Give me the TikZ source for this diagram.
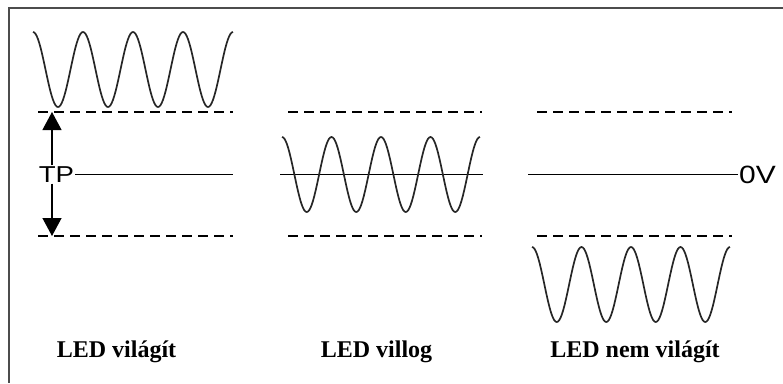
\documentclass[tikz,border=0pt]{standalone}
\usepackage{fontspec}
\setmainfont{Liberation Serif}
\newfontfamily\levelfont[FakeStretch=1.2]{Liberation Sans}
\usetikzlibrary{arrows.meta}

\tikzset{
  wave/.style={line width=1.7pt, black!85},
  levelline/.style={line width=1.2pt, dash pattern=on 10pt off 6pt},
  zeroline/.style={line width=1.2pt},
  sidelabel/.style={font=\levelfont\fontsize{23}{23}\selectfont, inner sep=1pt},
  caption/.style={font=\bfseries\fontsize{24}{24}\selectfont, anchor=base},
  span/.style={line width=1.2pt, -{Triangle[width=19pt,length=18pt]}}
}

\begin{document}
\begin{tikzpicture}[x=1pt, y=-1pt]
  \useasboundingbox (0,0) rectangle (783,383);
  % frame
  \draw[line width=2pt, black!70] (783,8) -- (9,8) -- (9,383);

  % LED világít
  \draw[wave] plot[domain=0:4, samples=161] ({33+50*\x}, {69.5-37.5*cos(360*\x)});
  \coordinate (aTop) at (52,112);
  \coordinate (aBot) at (52,236);
  \coordinate (aEnd) at (233,174.5);
  \draw[levelline] (38,112) -- (233,112);
  \draw[levelline] (38,236) -- (233,236);
  \node[sidelabel] (tp) at (56.5,174.5) {TP};
  \draw[span] (tp.north -| aTop) -- (aTop);
  \draw[span] (tp.south -| aBot) -- (aBot);
  \draw[zeroline] (tp.east) -- (aEnd);
  \node[caption] (capA) at (116.5,357) {LED világít};

  % LED villog
  \draw[levelline] (288,112) -- (482,112);
  \draw[levelline] (288,236) -- (482,236);
  \coordinate (bStart) at (280,174.5);
  \coordinate (bEnd) at (483,174.5);
  \draw[zeroline] (bStart) -- (bEnd);
  \draw[wave] plot[domain=0:4, samples=161] ({282+49.5*\x}, {174.5-37.5*cos(360*\x)});
  \node[caption] (capB) at (376.5,357) {LED villog};

  % LED nem világít
  \draw[levelline] (537,112) -- (732,112);
  \draw[levelline] (537,236) -- (732,236);
  \node[sidelabel, font=\levelfont\fontsize{25}{25}\selectfont] (zerov) at (757.5,174.5) {0V};
  \coordinate (cStart) at (528,174.5);
  \draw[zeroline] (cStart) -- (zerov.west);
  \draw[wave] plot[domain=0:4, samples=161] ({532+49.5*\x}, {284.5-37.5*cos(360*\x)});
  \node[caption] (capC) at (635,357) {LED nem világít};
\end{tikzpicture}
\end{document}
